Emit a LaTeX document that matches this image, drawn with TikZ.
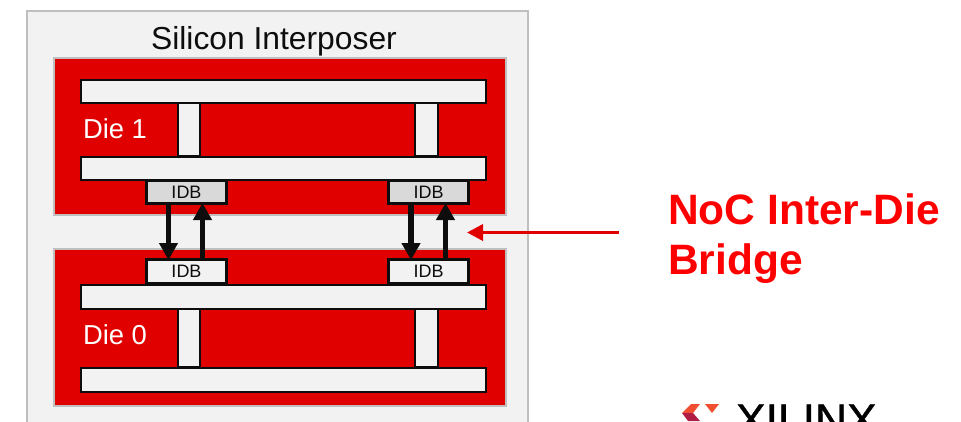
\documentclass[tikz,border=0pt]{standalone}
\usepackage{fontspec}
\setmainfont{Liberation Sans}
\newfontfamily\logofont[RawFeature={embolden=0.9}]{Liberation Sans}
\usetikzlibrary{arrows.meta}
\definecolor{panel}{HTML}{F2F2F2}
\definecolor{edge}{HTML}{BFBFBF}
\definecolor{xred}{HTML}{E00000}
\definecolor{idbgray}{HTML}{D9D9D9}
\definecolor{ink}{HTML}{0D0D0D}
\definecolor{title}{HTML}{FF0000}
\definecolor{logoA}{HTML}{F04E30}
\definecolor{logoB}{HTML}{B01E45}
\newcommand{\pxfont}[1]{\fontsize{#1pt}{#1pt}\selectfont}
\tikzset{
  x=1pt,y=-1pt,
  every node/.style={inner sep=0pt,outer sep=0pt},
  panelbox/.style={draw=edge,line width=2.4pt,fill=panel},
  diebox/.style={draw=edge,line width=2.4pt,fill=xred},
  busbar/.style={draw=ink,line width=2.4pt,fill=panel},
  idbbox/.style={draw=ink,line width=2.4pt,align=center,text=ink,font=\pxfont{18}},
  flow/.style={draw=ink,line width=5.2pt,-{Triangle[length=17pt,width=18pt]},shorten >=-0.5pt,shorten <=-0.5pt},
  pointer/.style={draw=xred,line width=3.5pt,-{Triangle[length=16pt,width=16pt]}}
}
\begin{document}
\begin{tikzpicture}[line join=miter]
\useasboundingbox (0,0) rectangle (961,421);
\begin{scope}
\clip (0,0) rectangle (961,421);
\fill[white] (0,0) rectangle (961,421);
% interposer
\path[panelbox] (27,11) rectangle (528,450);
\node[font=\pxfont{31.8},text=ink,anchor=base] (interposerlabel) at (274,49) {Silicon Interposer};
% dies
\path[diebox] (54,58) rectangle (506,215);
\path[diebox] (54,249) rectangle (506,406);
% die 1 buses
\path[busbar] (178,103) rectangle (200,156);
\path[busbar] (415,103) rectangle (438,156);
\path[busbar] (81,80) rectangle (486,103);
\path[busbar] (81,157) rectangle (486,180);
\node[font=\pxfont{27.4},text=white,anchor=base west] (dieone) at (83,138) {Die 1};
% die 0 buses
\path[busbar] (178,309) rectangle (200,367);
\path[busbar] (415,309) rectangle (438,367);
\path[busbar] (81,285) rectangle (486,309);
\path[busbar] (81,368) rectangle (486,392);
\node[font=\pxfont{27.4},text=white,anchor=base west] (diezero) at (83,344) {Die 0};
% IDB
\node[idbbox,fill=idbgray,minimum width=80pt,minimum height=23pt] (idbA) at (186.5,192) {IDB};
\node[idbbox,fill=idbgray,minimum width=80pt,minimum height=23pt] (idbB) at (428.5,192) {IDB};
\node[idbbox,fill=panel,minimum width=80pt,minimum height=24pt] (idbC) at (186.5,271.5) {IDB};
\node[idbbox,fill=panel,minimum width=80pt,minimum height=24pt] (idbD) at (428.5,271.5) {IDB};
% arrows
\draw[flow] (idbA.south -| 168.5,0) -- (idbC.north -| 168.5,0);
\draw[flow] (idbC.north -| 202.5,0) -- (idbA.south -| 202.5,0);
\draw[flow] (idbB.south -| 411,0) -- (idbD.north -| 411,0);
\draw[flow] (idbD.north -| 445.5,0) -- (idbB.south -| 445.5,0);
% pointer
\node[font=\bfseries\pxfont{42.5},text=title,anchor=base west,align=left] (bridgeA) at (668.3,224) {NoC Inter-Die};
\node[font=\bfseries\pxfont{42.5},text=title,anchor=base west,align=left] (bridgeB) at (668.3,274) {Bridge};
\coordinate (ptrstart) at (619,232.5);
\coordinate (ptrend) at (467,232.5);
\draw[pointer] (ptrstart) -- (ptrend);
% logo
\fill[logoA] (682,413) -- (691,404) -- (700,404) -- (693,413) -- cycle;
\fill[logoA] (705,404) -- (719,404) -- (712,413) -- cycle;
\fill[logoB] (682,413) -- (693,413) -- (700,421) -- (688,421) -- cycle;
\node[font=\logofont\pxfont{44.4},text=black,anchor=base west] (xilinx) at (736,435) {XILINX};
\end{scope}
\end{tikzpicture}
\end{document}
